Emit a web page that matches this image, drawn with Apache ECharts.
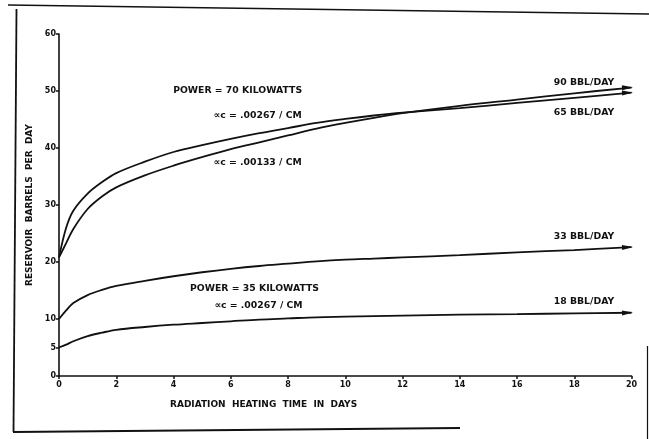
<!DOCTYPE html>
<html>
<head>
<meta charset="utf-8">
<script src="https://cdn.jsdelivr.net/npm/echarts@6/dist/echarts.min.js"></script>
<style>
html,body{margin:0;padding:0;background:#fff;}
#chart{width:649px;height:439px;}
</style>
</head>
<body>
<div id="chart"></div>
<script>
// ---- data ----
const days = [0, 0.25, 0.5, 1, 1.5, 2, 3, 4, 5, 6, 7, 8, 9, 10, 11, 12, 14, 16, 18, 20];
// 70 kW, alpha c = .00267/cm  (ends at 65 BBL/DAY)
const p70a267 = [20.8, 26.0, 29.0, 32.0, 34.0, 35.6, 37.6, 39.3, 40.5, 41.6, 42.6, 43.5, 44.4, 45.1, 45.7, 46.2, 47.0, 47.9, 48.8, 49.7];
// 70 kW, alpha c = .00133/cm  (ends at 90 BBL/DAY)
const p70a133 = [20.8, 23.3, 25.8, 29.3, 31.5, 33.1, 35.2, 36.9, 38.4, 39.8, 41.0, 42.2, 43.4, 44.4, 45.3, 46.1, 47.4, 48.5, 49.6, 50.6];
// 35 kW, alpha c = .00267/cm  (33 BBL/DAY)
const p35upper = [10.0, 11.5, 12.8, 14.2, 15.1, 15.8, 16.7, 17.5, 18.2, 18.8, 19.3, 19.7, 20.1, 20.4, 20.6, 20.8, 21.2, 21.7, 22.1, 22.6];
// 35 kW  (18 BBL/DAY)
const p35lower = [5.0, 5.5, 6.1, 7.0, 7.6, 8.1, 8.6, 9.0, 9.3, 9.6, 9.9, 10.1, 10.3, 10.4, 10.5, 10.6, 10.75, 10.85, 11.0, 11.1];

const xTicks = [0, 2, 4, 6, 8, 10, 12, 14, 16, 18, 20];
const yTicks = [0, 5, 10, 20, 30, 40, 50, 60];

const noteTexts = ['POWER = 70 KILOWATTS', '\u221Dc = .00267 / CM', '\u221Dc = .00133 / CM',
  '90 BBL/DAY', '65 BBL/DAY', '33 BBL/DAY', '18 BBL/DAY',
  'POWER = 35 KILOWATTS', '\u221Dc = .00267 / CM'];
const noteDays = [6.24, 6.94, 6.94, 18.34, 18.34, 18.34, 18.34, 6.83, 6.97];
const noteValues = [50.0, 45.6, 37.4, 51.4, 46.3, 24.4, 13.0, 15.4, 12.3];

// ---- chart ----
const font = 'DejaVu Sans';
const pair = arr => days.map((d, i) => [d, arr[i]]);
const curves = [p70a267, p70a133, p35upper, p35lower];
const lineSeries = curves.map(c => ({
  type: 'line', data: pair(c), smooth: 0.35, showSymbol: false, silent: true,
  lineStyle: {color: '#111', width: 1.8}
}));
const last = days.length - 1;
const arrowSeries = {
  type: 'scatter', silent: true,
  symbol: 'triangle', symbolSize: [5, 11], symbolRotate: -87, symbolOffset: [-4, 0],
  itemStyle: {color: '#111', opacity: 1},
  data: curves.map(c => [days[last], c[last]])
};
const noteSeries = {
  type: 'scatter', silent: true, symbolSize: 0,
  itemStyle: {color: '#111', opacity: 1},
  data: noteTexts.map((t, i) => ({name: t, value: [noteDays[i], noteValues[i]]})),
  label: {show: true, position: 'inside', formatter: p => p.name,
    fontFamily: font, fontWeight: 'bold', fontSize: 9.3, color: '#111',
    textBorderWidth: 0, opacity: 1}
};

const chart = echarts.init(document.getElementById('chart'), null, {renderer: 'canvas'});
chart.setOption({
  animation: false,
  backgroundColor: '#fff',
  grid: {left: 59, right: 17.5, top: 34, bottom: 63, containLabel: false},
  xAxis: {
    type: 'value', min: 0, max: 20, interval: 2,
    axisLine: {lineStyle: {color: '#111', width: 1.6}},
    axisTick: {show: true, length: 3, lineStyle: {color: '#111', width: 1.5}, customValues: xTicks},
    axisLabel: {customValues: xTicks, fontFamily: font, fontWeight: 'bold', fontSize: 8, color: '#111', margin: 5},
    splitLine: {show: false}
  },
  yAxis: {
    type: 'value', min: 0, max: 60, interval: 5,
    name: 'RESERVOIR  BARRELS  PER  DAY', nameLocation: 'middle', nameGap: 24, nameRotate: 90,
    nameTextStyle: {fontFamily: font, fontWeight: 'bold', fontSize: 9, color: '#111'},
    axisLine: {show: true, lineStyle: {color: '#111', width: 1.6}},
    axisTick: {show: true, length: 3, lineStyle: {color: '#111', width: 1.5}, customValues: yTicks},
    axisLabel: {customValues: yTicks, fontFamily: font, fontWeight: 'bold', fontSize: 8, color: '#111', margin: 3},
    splitLine: {show: false}
  },
  series: lineSeries.concat([arrowSeries, noteSeries]),
  graphic: [
    {type: 'text', left: 170, top: 400, silent: true,
     style: {text: 'RADIATION  HEATING  TIME  IN  DAYS', fontFamily: font, fontWeight: 'bold', fontSize: 9, fill: '#111'}},
    {type: 'line', silent: true, shape: {x1: 8, y1: 5, x2: 649, y2: 14}, style: {stroke: '#111', lineWidth: 1.6}},
    {type: 'line', silent: true, shape: {x1: 16.5, y1: 9, x2: 13.5, y2: 432}, style: {stroke: '#111', lineWidth: 1.8}},
    {type: 'line', silent: true, shape: {x1: 13, y1: 432, x2: 460, y2: 428}, style: {stroke: '#111', lineWidth: 1.8}},
    {type: 'line', silent: true, shape: {x1: 647.5, y1: 346, x2: 647.5, y2: 439}, style: {stroke: '#111', lineWidth: 1.2}}
  ]
});
</script>
</body>
</html>
